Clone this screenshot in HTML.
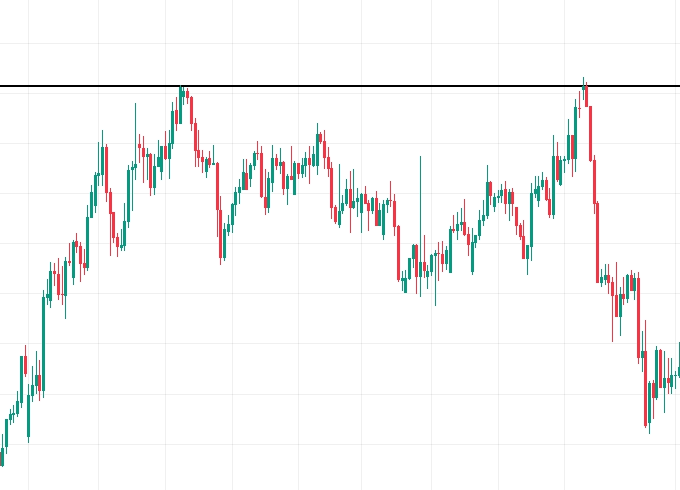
<!DOCTYPE html><html><head><meta charset="utf-8"><title>Chart</title><style>html,body{margin:0;padding:0;background:#fff;overflow:hidden}body{width:680px;height:490px;font-family:"Liberation Sans",sans-serif}svg{display:block}</style></head><body>
<svg width="680" height="490" viewBox="0 0 680 490" shape-rendering="crispEdges">
<defs><filter id="jp" x="-20" y="-20" width="720" height="530" filterUnits="userSpaceOnUse" color-interpolation-filters="sRGB"><feColorMatrix in="SourceGraphic" type="matrix" result="Y" values="0.299 0.587 0.114 0 0  0.299 0.587 0.114 0 0  0.299 0.587 0.114 0 0  0 0 0 1 0"/><feColorMatrix in="SourceGraphic" type="matrix" result="C" values="0.3505 -0.2935 -0.057 0 0.50196078  -0.1495 0.2065 -0.057 0 0.50196078  -0.1495 -0.2935 0.443 0 0.50196078  0 0 0 1 0"/><feConvolveMatrix in="C" order="3 1" kernelMatrix="0.25 0.5 0.25" divisor="1" edgeMode="duplicate" preserveAlpha="true" result="CH"/><feConvolveMatrix in="CH" order="1 3" kernelMatrix="0.25 0.5 0.25" divisor="1" edgeMode="duplicate" preserveAlpha="true" result="CB"/><feComposite in="Y" in2="CB" operator="arithmetic" k1="0" k2="1" k3="2" k4="-1.00392157"/></filter></defs>
<g filter="url(#jp)">
<rect x="-20" y="-20" width="720" height="530" fill="#ffffff"/>
<g fill="#000000" fill-opacity="0.06">
<rect x="28" y="-20" width="1" height="530"/>
<rect x="98" y="-20" width="1" height="530"/>
<rect x="165" y="-20" width="1" height="530"/>
<rect x="232" y="-20" width="1" height="530"/>
<rect x="298" y="-20" width="1" height="530"/>
<rect x="361" y="-20" width="1" height="530"/>
<rect x="431" y="-20" width="1" height="530"/>
<rect x="498" y="-20" width="1" height="530"/>
<rect x="564" y="-20" width="1" height="530"/>
<rect x="675" y="-20" width="1" height="530"/>
<rect x="-20" y="43" width="720" height="1"/>
<rect x="-20" y="93" width="720" height="1"/>
<rect x="-20" y="143" width="720" height="1"/>
<rect x="-20" y="193" width="720" height="1"/>
<rect x="-20" y="243" width="720" height="1"/>
<rect x="-20" y="293" width="720" height="1"/>
<rect x="-20" y="343" width="720" height="1"/>
<rect x="-20" y="394" width="720" height="1"/>
<rect x="-20" y="444" width="720" height="1"/>
</g>
<rect x="-20" y="85" width="720" height="2" fill="#000000"/>
<rect x="-2" y="452" width="3" height="14" fill="#b05153"/>
<g fill="#089981"><rect x="2" y="434" width="1" height="33"/><rect x="1" y="448" width="3" height="18"/><rect x="6" y="419" width="1" height="35"/><rect x="5" y="419" width="3" height="28"/><rect x="10" y="409" width="1" height="16"/><rect x="9" y="414" width="3" height="6"/><rect x="13" y="405" width="1" height="18"/><rect x="12" y="413" width="3" height="2"/><rect x="17" y="391" width="1" height="26"/><rect x="16" y="401" width="3" height="13"/><rect x="21" y="356" width="1" height="52"/><rect x="20" y="356" width="3" height="47"/><rect x="28" y="384" width="1" height="59"/><rect x="27" y="395" width="3" height="42"/><rect x="32" y="366" width="1" height="36"/><rect x="31" y="385" width="3" height="11"/><rect x="36" y="351" width="1" height="43"/><rect x="35" y="375" width="3" height="11"/><rect x="43" y="290" width="1" height="108"/><rect x="42" y="297" width="3" height="94"/><rect x="47" y="279" width="1" height="26"/><rect x="46" y="294" width="3" height="4"/><rect x="50" y="262" width="1" height="46"/><rect x="49" y="271" width="3" height="30"/><rect x="65" y="257" width="1" height="62"/><rect x="64" y="261" width="3" height="35"/><rect x="73" y="240" width="1" height="45"/><rect x="72" y="242" width="3" height="36"/><rect x="87" y="205" width="1" height="66"/><rect x="86" y="217" width="3" height="51"/><rect x="91" y="185" width="1" height="33"/><rect x="90" y="192" width="3" height="26"/><rect x="95" y="172" width="1" height="41"/><rect x="94" y="175" width="3" height="31"/><rect x="98" y="142" width="1" height="44"/><rect x="97" y="173" width="3" height="3"/><rect x="102" y="130" width="1" height="56"/><rect x="101" y="147" width="3" height="28"/><rect x="121" y="229" width="1" height="22"/><rect x="120" y="245" width="3" height="3"/><rect x="124" y="203" width="1" height="48"/><rect x="123" y="221" width="3" height="25"/><rect x="128" y="165" width="1" height="63"/><rect x="127" y="170" width="3" height="52"/><rect x="132" y="161" width="1" height="50"/><rect x="131" y="167" width="3" height="3"/><rect x="135" y="103" width="1" height="77"/><rect x="134" y="164" width="3" height="4"/><rect x="147" y="148" width="1" height="32"/><rect x="146" y="154" width="3" height="3"/><rect x="154" y="154" width="1" height="41"/><rect x="153" y="166" width="3" height="22"/><rect x="158" y="140" width="1" height="27"/><rect x="157" y="157" width="3" height="10"/><rect x="161" y="146" width="1" height="34"/><rect x="160" y="146" width="3" height="26"/><rect x="169" y="130" width="1" height="49"/><rect x="168" y="143" width="3" height="16"/><rect x="172" y="102" width="1" height="47"/><rect x="171" y="111" width="3" height="33"/><rect x="180" y="85" width="1" height="39"/><rect x="179" y="87" width="3" height="37"/><rect x="183" y="87" width="1" height="18"/><rect x="182" y="91" width="3" height="6"/><rect x="206" y="157" width="1" height="21"/><rect x="205" y="159" width="3" height="13"/><rect x="213" y="145" width="1" height="20"/><rect x="212" y="163" width="3" height="2"/><rect x="224" y="223" width="1" height="38"/><rect x="223" y="229" width="3" height="29"/><rect x="228" y="215" width="1" height="21"/><rect x="227" y="224" width="3" height="8"/><rect x="232" y="203" width="1" height="30"/><rect x="231" y="204" width="3" height="21"/><rect x="235" y="187" width="1" height="29"/><rect x="234" y="192" width="3" height="13"/><rect x="239" y="179" width="1" height="25"/><rect x="238" y="187" width="3" height="6"/><rect x="243" y="159" width="1" height="31"/><rect x="242" y="172" width="3" height="18"/><rect x="250" y="163" width="1" height="24"/><rect x="249" y="165" width="3" height="14"/><rect x="254" y="151" width="1" height="19"/><rect x="253" y="153" width="3" height="13"/><rect x="268" y="172" width="1" height="41"/><rect x="267" y="178" width="3" height="30"/><rect x="272" y="145" width="1" height="47"/><rect x="271" y="158" width="3" height="25"/><rect x="280" y="148" width="1" height="26"/><rect x="279" y="162" width="3" height="4"/><rect x="287" y="174" width="1" height="31"/><rect x="286" y="176" width="3" height="13"/><rect x="294" y="161" width="1" height="34"/><rect x="293" y="163" width="3" height="32"/><rect x="302" y="158" width="1" height="20"/><rect x="301" y="165" width="3" height="9"/><rect x="305" y="152" width="1" height="25"/><rect x="304" y="158" width="3" height="8"/><rect x="313" y="146" width="1" height="21"/><rect x="312" y="154" width="3" height="12"/><rect x="317" y="123" width="1" height="52"/><rect x="316" y="134" width="3" height="32"/><rect x="339" y="164" width="1" height="64"/><rect x="338" y="211" width="3" height="14"/><rect x="342" y="195" width="1" height="19"/><rect x="341" y="203" width="3" height="8"/><rect x="346" y="179" width="1" height="27"/><rect x="345" y="189" width="3" height="15"/><rect x="353" y="169" width="1" height="40"/><rect x="352" y="201" width="3" height="7"/><rect x="357" y="188" width="1" height="29"/><rect x="356" y="198" width="3" height="4"/><rect x="361" y="193" width="1" height="40"/><rect x="360" y="194" width="3" height="19"/><rect x="372" y="197" width="1" height="17"/><rect x="371" y="198" width="3" height="13"/><rect x="379" y="203" width="1" height="23"/><rect x="378" y="210" width="3" height="16"/><rect x="383" y="200" width="1" height="40"/><rect x="382" y="204" width="3" height="31"/><rect x="387" y="198" width="1" height="15"/><rect x="386" y="200" width="3" height="5"/><rect x="402" y="271" width="1" height="20"/><rect x="401" y="278" width="3" height="3"/><rect x="405" y="270" width="1" height="23"/><rect x="404" y="278" width="3" height="15"/><rect x="409" y="258" width="1" height="22"/><rect x="408" y="258" width="3" height="21"/><rect x="413" y="244" width="1" height="24"/><rect x="412" y="245" width="3" height="14"/><rect x="420" y="156" width="1" height="141"/><rect x="419" y="262" width="3" height="15"/><rect x="427" y="265" width="1" height="24"/><rect x="426" y="271" width="3" height="6"/><rect x="431" y="254" width="1" height="22"/><rect x="430" y="255" width="3" height="17"/><rect x="435" y="250" width="1" height="56"/><rect x="434" y="253" width="3" height="3"/><rect x="446" y="246" width="1" height="24"/><rect x="445" y="250" width="3" height="14"/><rect x="450" y="226" width="1" height="47"/><rect x="449" y="229" width="3" height="44"/><rect x="457" y="212" width="1" height="28"/><rect x="456" y="224" width="3" height="7"/><rect x="461" y="208" width="1" height="23"/><rect x="460" y="222" width="3" height="3"/><rect x="472" y="228" width="1" height="47"/><rect x="471" y="242" width="3" height="30"/><rect x="475" y="235" width="1" height="13"/><rect x="474" y="235" width="3" height="8"/><rect x="479" y="210" width="1" height="30"/><rect x="478" y="220" width="3" height="16"/><rect x="483" y="200" width="1" height="26"/><rect x="482" y="215" width="3" height="6"/><rect x="487" y="165" width="1" height="54"/><rect x="486" y="182" width="3" height="34"/><rect x="494" y="193" width="1" height="19"/><rect x="493" y="197" width="3" height="10"/><rect x="498" y="190" width="1" height="13"/><rect x="497" y="196" width="3" height="2"/><rect x="501" y="184" width="1" height="19"/><rect x="500" y="190" width="3" height="6"/><rect x="509" y="189" width="1" height="32"/><rect x="508" y="192" width="3" height="12"/><rect x="527" y="245" width="1" height="30"/><rect x="526" y="245" width="3" height="14"/><rect x="531" y="183" width="1" height="78"/><rect x="530" y="193" width="3" height="54"/><rect x="535" y="176" width="1" height="22"/><rect x="534" y="189" width="3" height="5"/><rect x="538" y="176" width="1" height="31"/><rect x="537" y="186" width="3" height="15"/><rect x="542" y="172" width="1" height="18"/><rect x="541" y="180" width="3" height="7"/><rect x="553" y="135" width="1" height="84"/><rect x="552" y="156" width="3" height="59"/><rect x="560" y="156" width="1" height="30"/><rect x="559" y="160" width="3" height="25"/><rect x="564" y="156" width="1" height="17"/><rect x="563" y="159" width="3" height="2"/><rect x="568" y="119" width="1" height="45"/><rect x="567" y="135" width="3" height="25"/><rect x="575" y="99" width="1" height="73"/><rect x="574" y="107" width="3" height="52"/><rect x="583" y="77" width="1" height="23"/><rect x="582" y="86" width="3" height="4"/><rect x="601" y="269" width="1" height="18"/><rect x="600" y="277" width="3" height="6"/><rect x="605" y="264" width="1" height="21"/><rect x="604" y="275" width="3" height="5"/><rect x="620" y="287" width="1" height="49"/><rect x="619" y="294" width="3" height="23"/><rect x="627" y="274" width="1" height="29"/><rect x="626" y="275" width="3" height="24"/><rect x="634" y="273" width="1" height="27"/><rect x="633" y="278" width="3" height="13"/><rect x="642" y="331" width="1" height="41"/><rect x="641" y="351" width="3" height="7"/><rect x="649" y="381" width="1" height="53"/><rect x="648" y="383" width="3" height="40"/><rect x="656" y="346" width="1" height="54"/><rect x="655" y="350" width="3" height="48"/><rect x="664" y="351" width="1" height="62"/><rect x="663" y="378" width="3" height="10"/><rect x="671" y="358" width="1" height="36"/><rect x="670" y="375" width="3" height="12"/><rect x="675" y="371" width="1" height="18"/><rect x="674" y="375" width="3" height="1"/><rect x="679" y="342" width="1" height="36"/><rect x="678" y="367" width="3" height="9"/></g>
<g fill="#f23645"><rect x="25" y="345" width="1" height="32"/><rect x="24" y="356" width="3" height="18"/><rect x="39" y="360" width="1" height="41"/><rect x="38" y="375" width="3" height="16"/><rect x="54" y="263" width="1" height="23"/><rect x="53" y="271" width="3" height="3"/><rect x="58" y="258" width="1" height="42"/><rect x="57" y="274" width="3" height="21"/><rect x="62" y="266" width="1" height="39"/><rect x="61" y="294" width="3" height="1"/><rect x="69" y="243" width="1" height="23"/><rect x="68" y="261" width="3" height="2"/><rect x="76" y="233" width="1" height="20"/><rect x="75" y="241" width="3" height="6"/><rect x="80" y="242" width="1" height="40"/><rect x="79" y="246" width="3" height="18"/><rect x="84" y="249" width="1" height="26"/><rect x="83" y="263" width="3" height="5"/><rect x="106" y="144" width="1" height="58"/><rect x="105" y="147" width="3" height="46"/><rect x="110" y="188" width="1" height="68"/><rect x="109" y="192" width="3" height="22"/><rect x="113" y="212" width="1" height="31"/><rect x="112" y="212" width="3" height="26"/><rect x="117" y="233" width="1" height="24"/><rect x="116" y="237" width="3" height="10"/><rect x="139" y="134" width="1" height="29"/><rect x="138" y="144" width="3" height="4"/><rect x="143" y="136" width="1" height="47"/><rect x="142" y="148" width="3" height="9"/><rect x="150" y="153" width="1" height="43"/><rect x="149" y="154" width="3" height="34"/><rect x="165" y="131" width="1" height="29"/><rect x="164" y="146" width="3" height="13"/><rect x="176" y="97" width="1" height="34"/><rect x="175" y="110" width="3" height="14"/><rect x="187" y="88" width="1" height="16"/><rect x="186" y="91" width="3" height="7"/><rect x="191" y="96" width="1" height="35"/><rect x="190" y="97" width="3" height="27"/><rect x="195" y="118" width="1" height="49"/><rect x="194" y="123" width="3" height="28"/><rect x="198" y="130" width="1" height="37"/><rect x="197" y="150" width="3" height="8"/><rect x="202" y="150" width="1" height="23"/><rect x="201" y="157" width="3" height="5"/><rect x="209" y="151" width="1" height="17"/><rect x="208" y="158" width="3" height="7"/><rect x="217" y="162" width="1" height="75"/><rect x="216" y="163" width="3" height="47"/><rect x="220" y="196" width="1" height="69"/><rect x="219" y="210" width="3" height="48"/><rect x="246" y="159" width="1" height="31"/><rect x="245" y="173" width="3" height="17"/><rect x="257" y="141" width="1" height="19"/><rect x="256" y="153" width="3" height="1"/><rect x="261" y="146" width="1" height="52"/><rect x="260" y="153" width="3" height="44"/><rect x="265" y="169" width="1" height="46"/><rect x="264" y="197" width="3" height="11"/><rect x="276" y="154" width="1" height="16"/><rect x="275" y="158" width="3" height="8"/><rect x="283" y="161" width="1" height="34"/><rect x="282" y="162" width="3" height="27"/><rect x="291" y="146" width="1" height="34"/><rect x="290" y="176" width="3" height="4"/><rect x="298" y="163" width="1" height="16"/><rect x="297" y="163" width="3" height="11"/><rect x="309" y="146" width="1" height="38"/><rect x="308" y="158" width="3" height="7"/><rect x="320" y="132" width="1" height="12"/><rect x="319" y="134" width="3" height="8"/><rect x="324" y="130" width="1" height="39"/><rect x="323" y="141" width="3" height="17"/><rect x="328" y="147" width="1" height="30"/><rect x="327" y="157" width="3" height="12"/><rect x="331" y="162" width="1" height="57"/><rect x="330" y="168" width="3" height="40"/><rect x="335" y="205" width="1" height="19"/><rect x="334" y="207" width="3" height="15"/><rect x="350" y="171" width="1" height="62"/><rect x="349" y="189" width="3" height="19"/><rect x="365" y="186" width="1" height="18"/><rect x="364" y="194" width="3" height="10"/><rect x="368" y="200" width="1" height="31"/><rect x="367" y="203" width="3" height="8"/><rect x="376" y="191" width="1" height="35"/><rect x="375" y="198" width="3" height="28"/><rect x="390" y="181" width="1" height="26"/><rect x="389" y="200" width="3" height="1"/><rect x="394" y="194" width="1" height="42"/><rect x="393" y="201" width="3" height="26"/><rect x="398" y="225" width="1" height="57"/><rect x="397" y="226" width="3" height="54"/><rect x="416" y="244" width="1" height="50"/><rect x="415" y="245" width="3" height="32"/><rect x="424" y="235" width="1" height="43"/><rect x="423" y="262" width="3" height="9"/><rect x="438" y="242" width="1" height="39"/><rect x="437" y="253" width="3" height="1"/><rect x="442" y="241" width="1" height="31"/><rect x="441" y="254" width="3" height="10"/><rect x="453" y="215" width="1" height="18"/><rect x="452" y="229" width="3" height="2"/><rect x="464" y="199" width="1" height="37"/><rect x="463" y="222" width="3" height="13"/><rect x="468" y="227" width="1" height="29"/><rect x="467" y="234" width="3" height="11"/><rect x="490" y="181" width="1" height="24"/><rect x="489" y="182" width="3" height="14"/><rect x="505" y="181" width="1" height="33"/><rect x="504" y="189" width="3" height="15"/><rect x="512" y="188" width="1" height="28"/><rect x="511" y="192" width="3" height="12"/><rect x="516" y="207" width="1" height="28"/><rect x="515" y="207" width="3" height="19"/><rect x="520" y="223" width="1" height="17"/><rect x="519" y="225" width="3" height="12"/><rect x="523" y="220" width="1" height="39"/><rect x="522" y="236" width="3" height="23"/><rect x="546" y="177" width="1" height="24"/><rect x="545" y="180" width="3" height="20"/><rect x="549" y="188" width="1" height="30"/><rect x="548" y="199" width="3" height="16"/><rect x="557" y="142" width="1" height="40"/><rect x="556" y="156" width="3" height="24"/><rect x="572" y="135" width="1" height="42"/><rect x="571" y="135" width="3" height="24"/><rect x="579" y="91" width="1" height="27"/><rect x="578" y="108" width="3" height="1"/><rect x="586" y="82" width="1" height="25"/><rect x="585" y="86" width="3" height="21"/><rect x="590" y="106" width="1" height="56"/><rect x="589" y="106" width="3" height="55"/><rect x="594" y="155" width="1" height="59"/><rect x="593" y="160" width="3" height="44"/><rect x="597" y="201" width="1" height="82"/><rect x="596" y="203" width="3" height="80"/><rect x="608" y="264" width="1" height="30"/><rect x="607" y="275" width="3" height="8"/><rect x="612" y="277" width="1" height="65"/><rect x="611" y="282" width="3" height="14"/><rect x="616" y="262" width="1" height="55"/><rect x="615" y="295" width="3" height="22"/><rect x="623" y="277" width="1" height="28"/><rect x="622" y="294" width="3" height="5"/><rect x="631" y="270" width="1" height="21"/><rect x="630" y="275" width="3" height="16"/><rect x="638" y="272" width="1" height="92"/><rect x="637" y="278" width="3" height="80"/><rect x="645" y="320" width="1" height="108"/><rect x="644" y="351" width="3" height="75"/><rect x="653" y="380" width="1" height="39"/><rect x="652" y="383" width="3" height="15"/><rect x="660" y="349" width="1" height="39"/><rect x="659" y="350" width="3" height="38"/><rect x="668" y="358" width="1" height="36"/><rect x="667" y="378" width="3" height="5"/></g>
</g>
</svg></body></html>
